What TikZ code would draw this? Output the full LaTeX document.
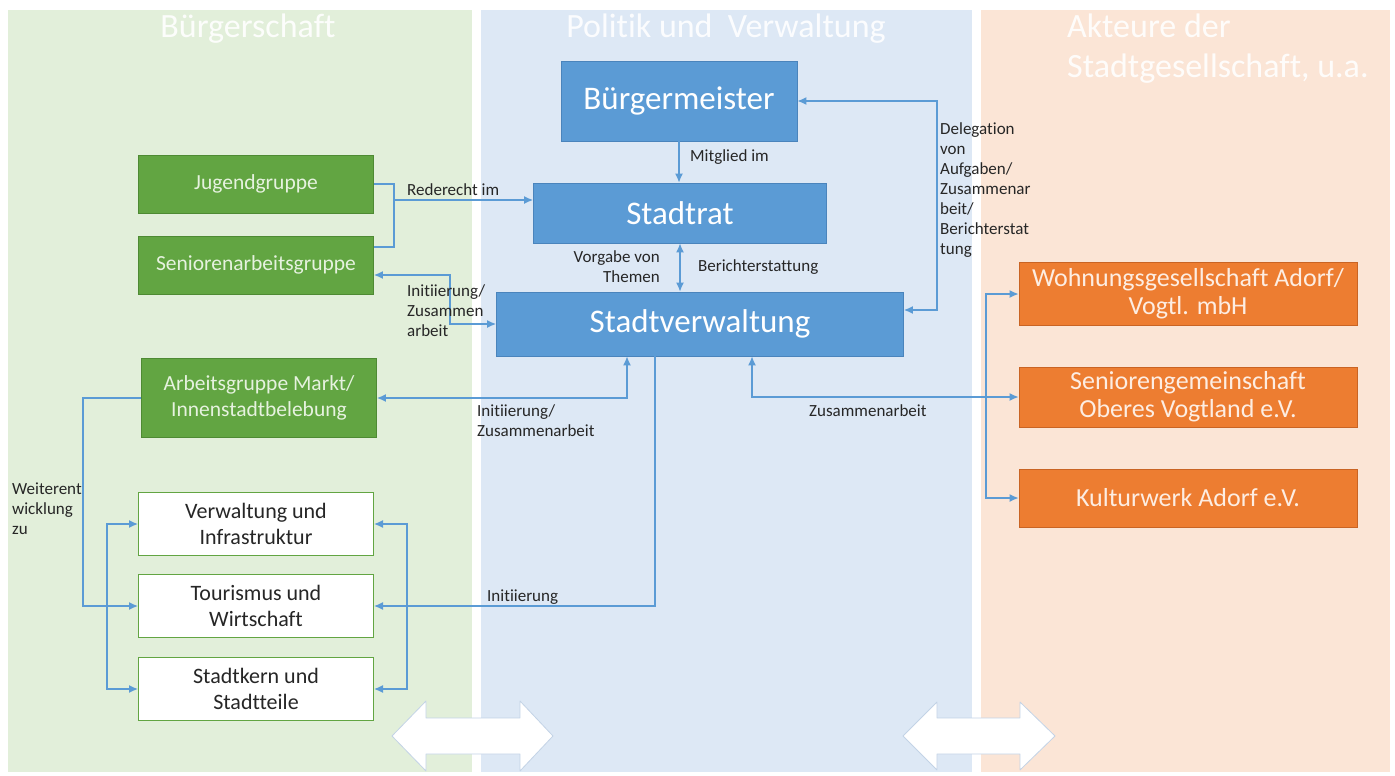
\documentclass[tikz,border=0pt]{standalone}
\usepackage{fontspec}
\setmainfont{Carlito}[Ligatures={CommonOff,ContextualOff}]
\usetikzlibrary{arrows.meta, calc}
\definecolor{panelgreen}{HTML}{E2EFDA}
\definecolor{panelblue}{HTML}{DDE8F5}
\definecolor{panelorange}{HTML}{FBE5D6}
\definecolor{nodeblue}{HTML}{5B9BD5}
\definecolor{nodeblueline}{HTML}{4A84BC}
\definecolor{nodegreen}{HTML}{62A542}
\definecolor{nodegreenline}{HTML}{4E8A33}
\definecolor{nodeorange}{HTML}{ED7D31}
\definecolor{nodeorangeline}{HTML}{C96424}
\definecolor{lightgreentext}{HTML}{E6F2DF}
\definecolor{lightorangetext}{HTML}{FDEDE2}
\definecolor{connblue}{HTML}{5B9BD5}
\definecolor{arrowline}{HTML}{C3D3E6}

\begin{document}
\begin{tikzpicture}[x=1pt, y=-1pt,
  conn/.style={draw=connblue, line width=1.3pt, >={Latex[length=9pt,width=8pt]}},
  bluebox/.style={draw=nodeblueline, fill=nodeblue, text=white, line width=0.8pt,
    font=\fontsize{33}{36}\selectfont},
  greenbox/.style={draw=nodegreenline, fill=nodegreen, text=lightgreentext, line width=0.8pt,
    minimum width=235, align=center, font=\fontsize{21.5}{26}\selectfont},
  whitebox/.style={draw=nodegreen, fill=white, text=black!85, line width=1pt,
    minimum width=235, minimum height=63, align=center, font=\fontsize{22}{26}\selectfont},
  orangebox/.style={draw=nodeorangeline, fill=nodeorange, text=lightorangetext, line width=0.8pt,
    minimum width=338, align=center, font=\fontsize{26}{28}\selectfont},
  lbl/.style={inner sep=0pt, text=black!85, font=\fontsize{17}{20}\selectfont},
  head/.style={inner sep=0pt, text=white, text opacity=0.9, font=\fontsize{34}{40}\selectfont},
  bigarrow/.style={fill=white, draw=arrowline, line width=0.8pt, line join=round}]

\useasboundingbox (0,0) rectangle (1395,776);

% panels
\fill[panelgreen] (8,10) rectangle (472,772);
\fill[panelblue] (481,10) rectangle (972,772);
\fill[panelorange] (981,10) rectangle (1390,772);

\node[head] (hbs) at (248,29) {Bürgerschaft};
\node[head] (hpv) at (726,29) {Politik und\ \ Verwaltung};
\node[head, anchor=west, align=left] (hak) at (1067,49) {Akteure der\\Stadtgesellschaft, u.a.};

% Politik und Verwaltung
\node[bluebox, minimum width=236, minimum height=80] (bm) at (679,101) {Bürgermeister};
\node[bluebox, minimum width=293, minimum height=60] (sr) at (680,213) {Stadtrat};
\node[bluebox, minimum width=407, minimum height=64] (sv) at (700,324) {Stadtverwaltung};

% Buergerschaft
\node[greenbox, minimum height=58] (jg) at (256,184) {Jugendgruppe};
\node[greenbox, minimum height=58] (sag) at (256,265) {Seniorenarbeitsgruppe};
\node[greenbox, minimum height=79] (ag) at (259,398) {Arbeitsgruppe Markt/\\Innenstadtbelebung};
\node[whitebox] (vi) at (256,524) {Verwaltung und\\Infrastruktur};
\node[whitebox] (tw) at (256,606) {Tourismus und\\Wirtschaft};
\node[whitebox] (sk) at (256,689) {Stadtkern und\\Stadtteile};

% Akteure
\node[orangebox, minimum height=63] (wg) at (1188,294) {Wohnungsgesellschaft Adorf/\\Vogtl. mbH};
\node[orangebox, minimum height=60] (sg) at (1188,397) {Seniorengemeinschaft\\Oberes Vogtland e.V.};
\node[orangebox, minimum height=58] (kw) at (1188,498) {Kulturwerk Adorf e.V.};

% helper coordinates
\coordinate (rr) at (394,200);
\coordinate (ini) at (450,0);
\coordinate (dl) at (937,310);
\coordinate (iz) at (627,0);
\coordinate (ii) at (655,0);
\coordinate (za) at (752,0);
\coordinate (ob) at (986,0);
\coordinate (rb) at (407,0);
\coordinate (lb) at (107,0);
\coordinate (we) at (83,0);

% connectors
\draw[conn,->] (bm.south) -- (bm.south |- sr.north);
\draw[conn] (jg.east) -| (rr) |- ($(sag.east)+(0,-18)$);
\draw[conn,->] (rr) -- (rr -| sr.west);
\draw[conn,<->] ($(sag.east)+(0,10)$) -| (ini |- sv.west) -- (sv.west);
\draw[conn,<->] (sr.south) -- (sr.south |- sv.north);
\draw[conn,<->] (bm.east) -| (dl) -- (dl -| sv.east);
\draw[conn,<->] (ag.east) -| (iz |- sv.south);
\draw[conn,->] (ii |- sv.south) |- (tw.east);
\draw[conn,<->] (vi.east) -| (rb |- sk.east) -- (sk.east);
\draw[conn,<->] (vi.west) -| (lb |- sk.west) -- (sk.west);
\draw[conn,->] (ag.west) -| (we |- tw.west) -- (tw.west);
\draw[conn,<->] (za |- sv.south) |- (sg.west);
\draw[conn,<->] (wg.west) -| (ob |- kw.west) -- (kw.west);

% labels
\node[lbl, anchor=west] (lmi) at (690,157) {Mitglied im};
\node[lbl, anchor=west] (lrr) at (407,190) {Rederecht im};
\node[lbl, anchor=east, align=right] (lvt) at (660,267) {Vorgabe von\\Themen};
\node[lbl, anchor=west] (lbe) at (698,267) {Berichterstattung};
\node[lbl, anchor=west, align=left] (lde) at (940,190) {Delegation\\von\\Aufgaben/\\Zusammenar\\beit/\\Berichterstat\\tung};
\node[lbl, anchor=west, align=left] (liz1) at (407,311) {Initiierung/\\Zusammen\\arbeit};
\node[lbl, anchor=west, align=left] (liz2) at (477,421) {Initiierung/\\Zusammenarbeit};
\node[lbl, anchor=west, align=left] (lwe) at (12,509) {Weiterent\\wicklung\\zu};
\node[lbl, anchor=west] (lin) at (487,597) {Initiierung};
\node[lbl, anchor=west] (lza) at (809,411) {Zusammenarbeit};

% big double arrows
\draw[bigarrow] (392,736) -- (426,701) -- (426,718) -- (520,718) -- (520,701) -- (553,736)
  -- (520,771) -- (520,754) -- (426,754) -- (426,771) -- cycle;
\draw[bigarrow] (903,736) -- (937,702) -- (937,718) -- (1020,718) -- (1020,702) -- (1055,736)
  -- (1020,770) -- (1020,754) -- (937,754) -- (937,770) -- cycle;

\end{tikzpicture}
\end{document}
